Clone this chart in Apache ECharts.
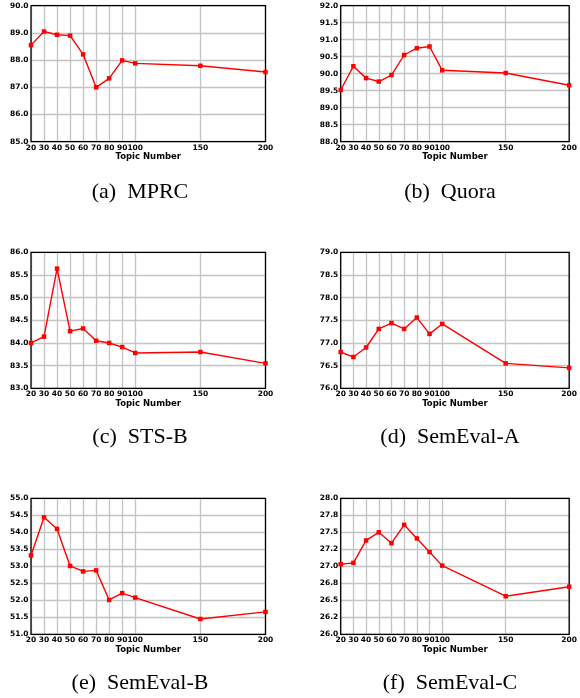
<!DOCTYPE html>
<html>
<head>
<meta charset="utf-8">
<script src="https://cdn.jsdelivr.net/npm/echarts@6/dist/echarts.min.js"></script>
<style>
html,body{margin:0;padding:0;background:#fff;}
#c{width:580px;height:698px;}
</style>
</head>
<body>
<div id="c"></div>
<script>
// Topic numbers (x values) and x tick labels
const topics = [20, 30, 40, 50, 60, 70, 80, 90, 100, 150, 200];
const xTicks = [20, 30, 40, 50, 60, 70, 80, 90, 100, 150, 200];

// Series values
const mprc     = [88.55, 89.05, 88.93, 88.90, 88.21, 87.00, 87.33, 87.99, 87.88, 87.79, 87.56];
const quora    = [89.52, 90.22, 89.87, 89.77, 89.96, 90.55, 90.75, 90.80, 90.10, 90.02, 89.66];
const stsb     = [84.00, 84.14, 85.64, 84.26, 84.32, 84.05, 84.00, 83.91, 83.78, 83.80, 83.55];
const semevalA = [76.80, 76.69, 76.90, 77.31, 77.44, 77.31, 77.56, 77.20, 77.42, 76.55, 76.45];
const semevalB = [53.32, 54.44, 54.10, 53.01, 52.85, 52.88, 52.01, 52.21, 52.08, 51.45, 51.66];
const semevalC = [27.03, 27.05, 27.38, 27.50, 27.34, 27.61, 27.41, 27.21, 27.01, 26.56, 26.70];

// Y tick labels per panel
const yTicksA = ['85.0', '86.0', '87.0', '88.0', '89.0', '90.0'];
const yTicksB = ['88.0', '88.5', '89.0', '89.5', '90.0', '90.5', '91.0', '91.5', '92.0'];
const yTicksC = ['83.0', '83.5', '84.0', '84.5', '85.0', '85.5', '86.0'];
const yTicksD = ['76.0', '76.5', '77.0', '77.5', '78.0', '78.5', '79.0'];
const yTicksE = ['51.0', '51.5', '52.0', '52.5', '53.0', '53.5', '54.0', '54.5', '55.0'];
const yTicksF = ['26.0', '26.2', '26.5', '26.8', '27.0', '27.2', '27.5', '27.8', '28.0'];

const captions = ['(a)  MPRC', '(b)  Quora', '(c)  STS-B', '(d)  SemEval-A', '(e)  SemEval-B', '(f)  SemEval-C'];

const panels = [
  {data: mprc,     min: 85, max: 90, interval: 1,    labels: yTicksA},
  {data: quora,    min: 88, max: 92, interval: 0.5,  labels: yTicksB},
  {data: stsb,     min: 83, max: 86, interval: 0.5,  labels: yTicksC},
  {data: semevalA, min: 76, max: 79, interval: 0.5,  labels: yTicksD},
  {data: semevalB, min: 51, max: 55, interval: 0.5,  labels: yTicksE},
  {data: semevalC, min: 26, max: 28, interval: 0.25, labels: yTicksF}
];

// layout
const lefts = [31, 340.7];
const tops = [5.7, 252.3, 498.3];
const gw = 234.5, gh = 136;
const capX = [140, 450];
const capY = [192, 437, 683];

const grids = [], xAxes = [], yAxes = [], series = [], graphics = [];
const tickFont = {fontFamily: 'DejaVu Sans', fontWeight: 'bold', fontSize: 7.5, color: '#000'};

panels.forEach((p, i) => {
  const col = i % 2, row = Math.floor(i / 2);
  grids.push({
    left: lefts[col], top: tops[row], width: gw, height: gh,
    show: true, z: 3, backgroundColor: 'rgba(0,0,0,0)',
    borderColor: '#000', borderWidth: 1.3
  });
  xAxes.push({
    gridIndex: i, type: 'value', min: 20, max: 200, z: 1,
    name: 'Topic Number', nameLocation: 'middle', nameGap: 10,
    nameTextStyle: {fontFamily: 'DejaVu Sans', fontWeight: 'bold', fontSize: 8.5, color: '#000'},
    axisLine: {show: false},
    axisTick: {show: false, customValues: xTicks},
    axisLabel: Object.assign({customValues: xTicks, margin: 2, formatter: v => String(v)}, tickFont),
    splitLine: {show: true, lineStyle: {color: '#c4c4c4', width: 1.3}}
  });
  yAxes.push({
    gridIndex: i, type: 'value', min: p.min, max: p.max, interval: p.interval, z: 1,
    axisLine: {show: false},
    axisTick: {show: false},
    axisLabel: Object.assign({
      margin: 2.5,
      formatter: v => {
        const k = Math.round((v - p.min) / p.interval);
        return p.labels[k] !== undefined ? p.labels[k] : '';
      }
    }, tickFont),
    splitLine: {show: true, lineStyle: {color: '#c4c4c4', width: 1.3}}
  });
  series.push({
    type: 'line', xAxisIndex: i, yAxisIndex: i, z: 5,
    data: topics.map((t, k) => [t, p.data[k]]),
    symbol: 'rect', symbolSize: 4.5, showSymbol: true,
    lineStyle: {color: '#ff0000', width: 1.4},
    itemStyle: {color: '#ff0000'},
    animation: false, silent: true
  });
  graphics.push({
    type: 'text', x: capX[col], y: capY[row],
    style: {
      text: captions[i], fill: '#000',
      font: '22px "Liberation Serif"',
      textAlign: 'center', textVerticalAlign: 'middle'
    }
  });
});

const chart = echarts.init(document.getElementById('c'), null, {renderer: 'canvas'});
chart.setOption({
  animation: false,
  backgroundColor: '#fff',
  grid: grids,
  xAxis: xAxes,
  yAxis: yAxes,
  series: series,
  graphic: graphics
});
</script>
</body>
</html>
